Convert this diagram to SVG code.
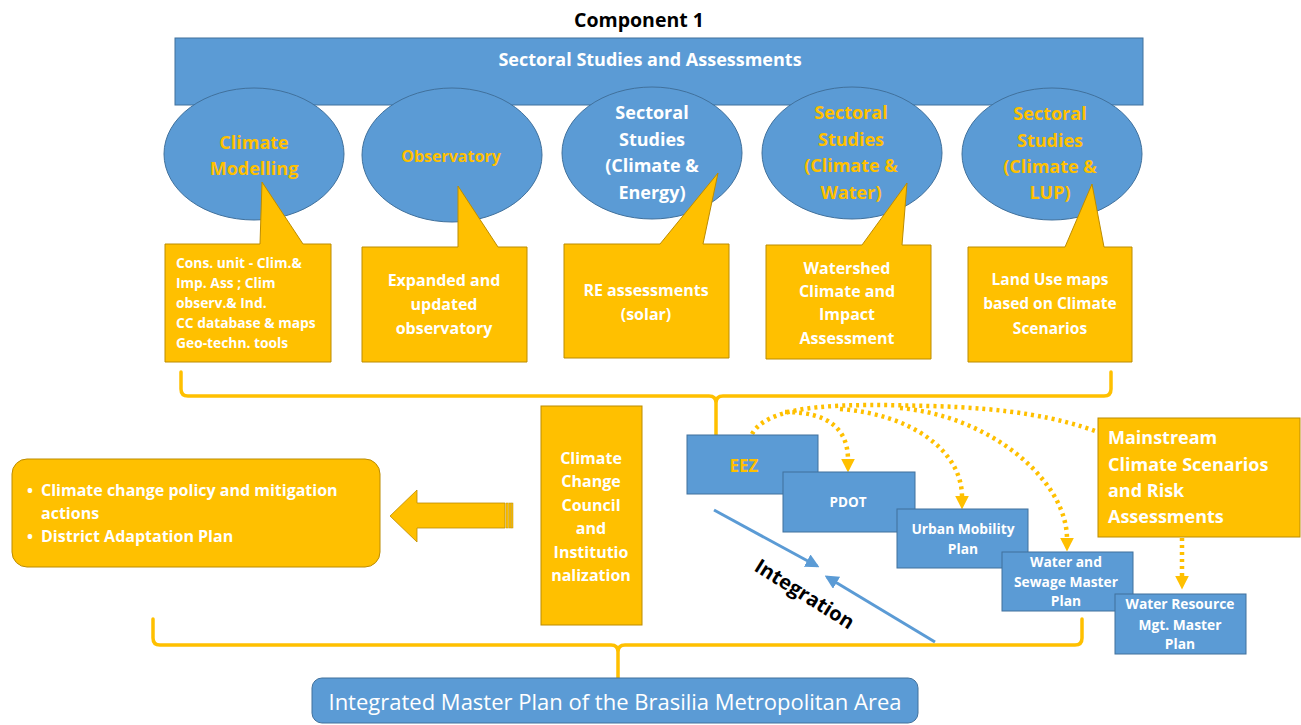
<svg xmlns="http://www.w3.org/2000/svg" width="1301" height="725" viewBox="0 0 1301 725">
<defs>
<style>
.blue{fill:#5B9BD5;stroke:#41719C;stroke-width:1}
.yel{fill:#FFC000;stroke:#BC8C00;stroke-width:1}
.t{font-family:'Open Sans','Liberation Sans',sans-serif;font-weight:700}
.r{font-family:'Open Sans','Liberation Sans',sans-serif;font-weight:400}
.w{fill:#FFFFFF}
.y{fill:#FFC000}
.k{fill:#000000}
.c{text-anchor:middle}
.brace{fill:none;stroke:#FFC000;stroke-width:3.5;stroke-linecap:round;stroke-linejoin:round}
.dot{fill:none;stroke:#FFC000;stroke-width:4.5;stroke-dasharray:3 4}
.barrow{fill:none;stroke:#5B9BD5;stroke-width:3}
</style>
<marker id="ya" viewBox="0 0 10 10" refX="1" refY="5" markerWidth="14" markerHeight="14" markerUnits="userSpaceOnUse" orient="auto">
<path d="M0,0 L10,5 L0,10 Z" fill="#FFC000"/>
</marker>
<marker id="ba" viewBox="0 0 10 10" refX="8" refY="5" markerWidth="14" markerHeight="14" markerUnits="userSpaceOnUse" orient="auto">
<path d="M0,0 L10,5 L0,10 Z" fill="#5B9BD5"/>
</marker>
</defs>
<rect width="1301" height="725" fill="#FFFFFF"/>

<text class="t k c" x="639" y="27" font-size="19.5">Component 1</text>

<g id="bar">
<rect class="blue" x="175" y="38" width="968" height="67"/>
<text class="t w c" x="650" y="66" font-size="18">Sectoral Studies and Assessments</text>
</g>

<g id="e1">
<ellipse class="blue" cx="254" cy="154" rx="90" ry="66"/>
<text class="t y c" font-size="18"><tspan x="254" y="149">Climate</tspan><tspan x="254" y="175">Modelling</tspan></text>
</g>
<g id="e2">
<ellipse class="blue" cx="452" cy="155" rx="90" ry="67"/>
<text class="t y c" x="451" y="162" font-size="16">Observatory</text>
</g>
<g id="e3">
<ellipse class="blue" cx="652" cy="153" rx="90" ry="66"/>
<text class="t w c" font-size="18"><tspan x="652" y="119">Sectoral</tspan><tspan x="652" y="146">Studies</tspan><tspan x="652" y="172">(Climate &amp;</tspan><tspan x="652" y="199">Energy)</tspan></text>
</g>
<g id="e4">
<ellipse class="blue" cx="852" cy="153" rx="90" ry="66"/>
<text class="t y c" font-size="18"><tspan x="851" y="119">Sectoral</tspan><tspan x="851" y="146">Studies</tspan><tspan x="851" y="172">(Climate &amp;</tspan><tspan x="851" y="199">Water)</tspan></text>
</g>
<g id="e5">
<ellipse class="blue" cx="1052" cy="154" rx="90" ry="66"/>
<text class="t y c" font-size="18"><tspan x="1050" y="120">Sectoral</tspan><tspan x="1050" y="147">Studies</tspan><tspan x="1050" y="173">(Climate &amp;</tspan><tspan x="1050" y="199">LUP)</tspan></text>
</g>

<g id="c1">
<path class="yel" d="M165,244 L260,244 L262,182 L303,244 L331,244 L331,362 L165,362 Z"/>
<text class="t w" font-size="13.8"><tspan x="176" y="268">Cons. unit - Clim.&amp;</tspan><tspan x="176" y="288">Imp. Ass ; Clim</tspan><tspan x="176" y="308">observ.&amp; Ind.</tspan><tspan x="176" y="328">CC database &amp; maps</tspan><tspan x="176" y="348">Geo-techn. tools</tspan></text>
</g>
<g id="c2">
<path class="yel" d="M362,247 L458,247 L458,186 L498,247 L527,247 L527,362 L362,362 Z"/>
<text class="t w c" font-size="16"><tspan x="444" y="286">Expanded and</tspan><tspan x="444" y="310">updated</tspan><tspan x="444" y="334">observatory</tspan></text>
</g>
<g id="c3">
<path class="yel" d="M564,244 L660,244 L718,173 L703,244 L729,244 L729,358 L564,358 Z"/>
<text class="t w c" font-size="16"><tspan x="646" y="296">RE assessments</tspan><tspan x="646" y="320">(solar)</tspan></text>
</g>
<g id="c4">
<path class="yel" d="M766,245 L862,245 L907,183 L902,245 L931,245 L931,359 L766,359 Z"/>
<text class="t w c" font-size="16"><tspan x="847" y="274">Watershed</tspan><tspan x="847" y="297">Climate and</tspan><tspan x="847" y="320">Impact</tspan><tspan x="847" y="344">Assessment</tspan></text>
</g>
<g id="c5">
<path class="yel" d="M968,247 L1065,247 L1092,184 L1104,247 L1132,247 L1132,362 L968,362 Z"/>
<text class="t w c" font-size="15.5"><tspan x="1050" y="285">Land Use maps</tspan><tspan x="1050" y="309">based on Climate</tspan><tspan x="1050" y="334">Scenarios</tspan></text>
</g>

<g id="connectors">
<path class="brace" d="M181,372 L181,389 Q181,396 188,396 L709,396 Q716,396 716,403 L716,438 M716,403 Q716,396 723,396 L1104,396 Q1111,396 1111,389 L1111,372"/>
<path class="brace" d="M153,619 L153,638 Q153,645 160,645 L611,645 Q618,645 618,652 L618,678 M618,652 Q618,645 625,645 L1075,645 Q1082,645 1082,638 L1082,619"/>
<path class="dot" d="M752,434 C770,402 850,404 930,406 C1010,408 1060,418 1098,432"/>
<path class="dot" d="M785,412 C830,412 848,430 848,460" marker-end="url(#ya)"/>
<path class="dot" d="M840,409 C910,414 962,450 962,497" marker-end="url(#ya)"/>
<path class="dot" d="M900,408 C990,416 1067,480 1067,539" marker-end="url(#ya)"/>
<path class="dot" d="M1182,538 L1182,577" marker-end="url(#ya)"/>
<path class="barrow" d="M714,510 L817,566" marker-end="url(#ba)"/>
<path class="barrow" d="M935,642 L827,577" marker-end="url(#ba)"/>
<g id="bigarrow">
<path d="M390,516 L417,490 L417,503 L505,503 L505,528 L417,528 L417,542 Z" fill="#FFC000" stroke="#BC8C00" stroke-width="0.8"/>
<rect x="506" y="503" width="2.2" height="25" fill="#FFC000" stroke="#BC8C00" stroke-width="0.5"/>
<rect x="509" y="503" width="2" height="25" fill="#FFC000" stroke="#BC8C00" stroke-width="0.5"/>
<rect x="511.5" y="503" width="1.5" height="25" fill="#FFC000" stroke="#BC8C00" stroke-width="0.5"/>
</g>
</g>

<text class="t k" x="0" y="0" font-size="20" font-weight="600" transform="translate(753,570) rotate(32)">Integration</text>

<g id="left">
<rect class="yel" x="12" y="459" width="368" height="108" rx="15"/>
<text class="t w" font-size="16"><tspan x="27" y="496">•</tspan><tspan x="41" y="496">Climate change policy and mitigation</tspan><tspan x="41" y="519">actions</tspan><tspan x="27" y="542">•</tspan><tspan x="41" y="542">District Adaptation Plan</tspan></text>
</g>

<g id="council">
<rect class="yel" x="541" y="406" width="101" height="219"/>
<text class="t w c" font-size="16"><tspan x="591" y="464">Climate</tspan><tspan x="591" y="487">Change</tspan><tspan x="591" y="511">Council</tspan><tspan x="591" y="534">and</tspan><tspan x="591" y="558">Institutio</tspan><tspan x="591" y="581">nalization</tspan></text>
</g>

<g id="mainstream">
<rect class="yel" x="1098" y="418" width="202" height="119"/>
<text class="t w" font-size="18"><tspan x="1108" y="444">Mainstream</tspan><tspan x="1108" y="471">Climate Scenarios</tspan><tspan x="1108" y="497">and Risk</tspan><tspan x="1108" y="523">Assessments</tspan></text>
</g>

<g id="eez">
<rect class="blue" x="687" y="435" width="131" height="59"/>
<text class="t y c" x="744" y="472" font-size="17">EEZ</text>
</g>
<g id="pdot">
<rect class="blue" x="783" y="472" width="132" height="60"/>
<text class="t w c" x="848" y="507" font-size="13.5">PDOT</text>
</g>
<g id="urban">
<rect class="blue" x="897" y="509" width="131" height="59"/>
<text class="t w c" font-size="13.8"><tspan x="963" y="534">Urban Mobility</tspan><tspan x="963" y="554">Plan</tspan></text>
</g>
<g id="sewage">
<rect class="blue" x="1002" y="552" width="131" height="59"/>
<text class="t w c" font-size="13.8"><tspan x="1066" y="567">Water and</tspan><tspan x="1066" y="587">Sewage Master</tspan><tspan x="1066" y="606">Plan</tspan></text>
</g>
<g id="wrm">
<rect class="blue" x="1115" y="594" width="131" height="60"/>
<text class="t w c" font-size="13.8"><tspan x="1180" y="609">Water Resource</tspan><tspan x="1180" y="630">Mgt. Master</tspan><tspan x="1180" y="649">Plan</tspan></text>
</g>

<g id="imp">
<rect class="blue" x="312" y="678" width="606" height="45" rx="10"/>
<text class="r w c" x="615" y="710" font-size="22">Integrated Master Plan of the Brasilia Metropolitan Area</text>
</g>
</svg>
